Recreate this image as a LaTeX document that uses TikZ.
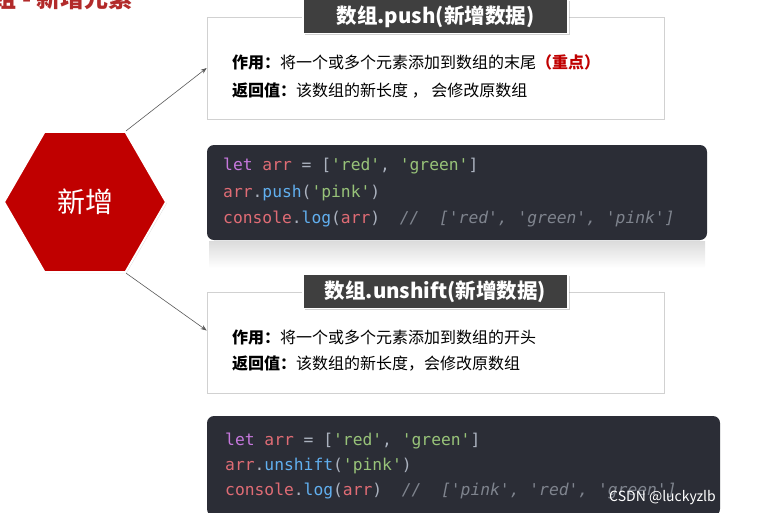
\documentclass[tikz,border=0pt]{standalone}
\usepackage{fontspec}
\setmainfont{Noto Sans CJK SC}
\setmonofont{DejaVu Sans Mono}
\usetikzlibrary{shapes.geometric,arrows.meta,shadows}
\definecolor{hexred}{HTML}{C00000}
\definecolor{headred}{HTML}{B22A2A}
\definecolor{titlegray}{HTML}{3F3F3F}
\definecolor{codebg}{HTML}{2B2D36}
\definecolor{kwpurple}{HTML}{C678DD}
\definecolor{varred}{HTML}{E06C75}
\definecolor{fnblue}{HTML}{61AFEF}
\definecolor{strgreen}{HTML}{98C379}
\definecolor{codepun}{HTML}{ABB2BF}
\definecolor{cmtgray}{HTML}{7F848E}
\newcommand\cKw[1]{\textcolor{kwpurple}{#1}}
\newcommand\cVar[1]{\textcolor{varred}{#1}}
\newcommand\cFn[1]{\textcolor{fnblue}{#1}}
\newcommand\cStr[1]{\textcolor{strgreen}{#1}}
\newcommand\cCmt[1]{\textcolor{cmtgray}{\itshape #1}}

\begin{document}
\begin{tikzpicture}
	[x=1pt,y=-1pt,
	hexa/.style={regular polygon,regular polygon sides=6,minimum size=162pt,inner sep=0pt,
		fill=hexred,draw=white,line width=2pt,
		drop shadow={opacity=0.3,shadow xshift=1pt,shadow yshift=-1pt},
		text=white,font=\fontsize{28}{30}\selectfont},
	infobox/.style={draw=black!18,line width=0.6pt,fill=white,inner sep=0pt,minimum width=457pt},
	titlebox/.style={fill=titlegray,draw=white,line width=1.5pt,inner sep=0pt,
		drop shadow={opacity=0.35,shadow xshift=1.5pt,shadow yshift=-1.5pt},
		minimum width=265pt,minimum height=34pt,
		text=white,font=\bfseries\fontsize{20.5}{22}\selectfont},
	infoline/.style={anchor=base west,inner sep=0pt,font=\fontsize{16}{18}\selectfont},
	codebox/.style={fill=codebg,rounded corners=7pt,inner sep=0pt},
	codeline/.style={anchor=base west,inner sep=0pt,text=codepun,font=\ttfamily\fontsize{16.3}{18}\selectfont},
	link/.style={draw=black!65,line width=0.6pt,-{Stealth[length=6pt,width=4.5pt]}}]
	\useasboundingbox (0,0) rectangle (757,512);
	\node[anchor=east,inner sep=0pt,text=headred,font=\bfseries\fontsize{24}{26}\selectfont] (head) at (133,-2) {数组 - 新增元素};
	\node[hexa] (hex) at (85,202) {新增};
	\node[infobox,minimum height=102pt] (pushbox) at (435.5,68) {};
	\node[titlebox] (pushtitle) at (pushbox.north) {数组.push(新增数据)};
	\node[infoline] (pushuse) at (232,68) {\textbf{作用：}将一个或多个元素添加到数组的末尾\textcolor{hexred}{\bfseries （重点）}};
	\node[infoline] (pushret) at (232,96) {\textbf{返回值：}该数组的新长度 ， 会修改原数组};
	\shade[top color=black!14,bottom color=white] (209,241) rectangle (705,268);
	\node[codebox,minimum width=500pt,minimum height=95pt] (pushcode) at (457,192.5) {};
	\node[codeline] (pushc1) at (223,170) {\cKw{let} \cVar{arr} = [\cStr{'red'}, \cStr{'green'}]};
	\node[codeline] (pushc2) at (223,197) {\cVar{arr}.\cFn{push}(\cStr{'pink'})};
	\node[codeline] (pushc3) at (223,223) {\cVar{console}.\cFn{log}(\cVar{arr})~~\cCmt{//~~['red',~'green',~'pink']}};
	\node[infobox,minimum height=101pt] (unshiftbox) at (435.5,342.5) {};
	\node[titlebox] (unshifttitle) at (unshiftbox.north) {数组.unshift(新增数据)};
	\node[infoline] (unshiftuse) at (232,343) {\textbf{作用：}将一个或多个元素添加到数组的开头};
	\node[infoline] (unshiftret) at (232,369) {\textbf{返回值：}该数组的新长度，会修改原数组};
	\node[codebox,minimum width=513pt,minimum height=100pt] (unshiftcode) at (463.5,466) {};
	\node[codeline] (unshiftc1) at (225,445) {\cKw{let} \cVar{arr} = [\cStr{'red'}, \cStr{'green'}]};
	\node[codeline] (unshiftc2) at (225,470) {\cVar{arr}.\cFn{unshift}(\cStr{'pink'})};
	\node[codeline] (unshiftc3) at (225,495) {\cVar{console}.\cFn{log}(\cVar{arr})~~\cCmt{//~~['pink',~'red',~'green']}};
	\node[anchor=east,inner sep=0pt,text=white,font=\fontsize{14}{16}\selectfont] (mark) at (716,498) {CSDN @luckyzlb};
	\draw[link] (hex.60) -- (pushbox.west);
	\draw[link] (hex.-60) -- ([yshift=12pt]unshiftbox.west);
\end{tikzpicture}
\end{document}
